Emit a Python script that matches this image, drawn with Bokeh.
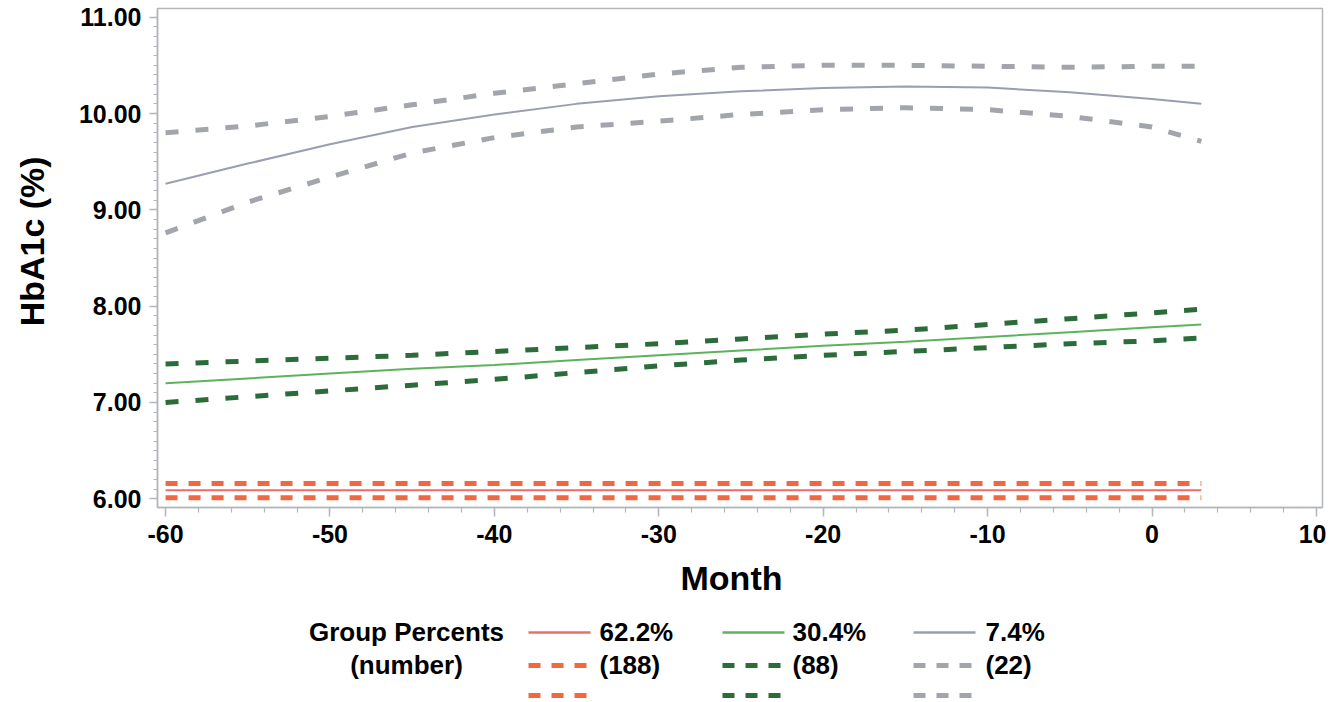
import math
from bokeh.plotting import figure
from bokeh.models import Range1d, FixedTicker, NumeralTickFormatter
from bokeh.layouts import column, row
from bokeh.embed import file_html
from bokeh.resources import INLINE
from bokeh.core.properties import value

# ---------------- data ----------------
months = [-60, -55, -50, -45, -40, -35, -30, -25, -20, -15, -10, -5, 0, 3]

# group 1 (62.2%, n=188)
g1_mean  = [6.09, 6.09, 6.09, 6.09, 6.09, 6.09, 6.09, 6.09, 6.09, 6.09, 6.09, 6.09, 6.09, 6.09]
g1_upper = [6.16, 6.16, 6.16, 6.16, 6.16, 6.16, 6.16, 6.16, 6.16, 6.16, 6.16, 6.16, 6.16, 6.16]
g1_lower = [6.01, 6.01, 6.01, 6.01, 6.01, 6.01, 6.01, 6.01, 6.01, 6.01, 6.01, 6.01, 6.01, 6.01]

# group 2 (30.4%, n=88)
g2_mean  = [7.20, 7.25, 7.30, 7.35, 7.39, 7.44, 7.49, 7.54, 7.59, 7.63, 7.68, 7.73, 7.78, 7.81]
g2_upper = [7.40, 7.43, 7.46, 7.49, 7.53, 7.57, 7.61, 7.66, 7.71, 7.75, 7.81, 7.87, 7.93, 7.97]
g2_lower = [7.00, 7.06, 7.12, 7.18, 7.24, 7.31, 7.38, 7.44, 7.49, 7.53, 7.57, 7.61, 7.64, 7.67]

# group 3 (7.4%, n=22)
g3_mean  = [9.27, 9.48, 9.68, 9.86, 9.99, 10.10, 10.18, 10.23, 10.265, 10.28, 10.27, 10.22, 10.15, 10.10]
g3_upper = [9.80, 9.87, 9.97, 10.09, 10.21, 10.31, 10.41, 10.48, 10.50, 10.50, 10.49, 10.48, 10.49, 10.49]
g3_lower = [8.76, 9.08, 9.34, 9.59, 9.75, 9.86, 9.92, 9.99, 10.04, 10.06, 10.04, 9.97, 9.86, 9.71]

x_ticks = [-60, -50, -40, -30, -20, -10, 0, 10]
x_tick_labels = ["-60", "-50", "-40", "-30", "-20", "-10", "0", "10"]
y_ticks = [6, 7, 8, 9, 10, 11]
x_label = "Month"
y_label = "HbA1c (%)"
legend_title = ["Group Percents", "(number)"]
group_pct = ["62.2%", "30.4%", "7.4%"]
group_n = ["(188)", "(88)", "(22)"]

solid_colors = ["#EF6B67", "#5CB35C", "#9A9FAF"]
dash_colors = ["#F2673F", "#2C6B3A", "#A2A5AB"]
plot_dash = ["12 11", "13 17", "13 17"]

FONT = "Liberation Sans"
AX = "#B3B6BA"

# ---------------- sizes ----------------
W_LEFT, W_MAIN, H_MAIN = 60, 1266, 555
W_BOT, H_BOT = W_LEFT + W_MAIN, 145

# ---------------- main plot ----------------
p = figure(width=W_MAIN, height=H_MAIN,
           x_range=Range1d(-60.49, 10.37), y_range=Range1d(5.91, 11.09),
           output_backend="svg", toolbar_location=None,
           min_border_left=97, min_border_right=4, min_border_top=8, min_border_bottom=48)
p.grid.visible = False
p.background_fill_color = "white"
p.border_fill_color = "white"
p.outline_line_color = AX
p.outline_line_width = 1.5

p.xaxis.ticker = FixedTicker(ticks=x_ticks, minor_ticks=[v for v in range(-60, 11, 2)])
p.xaxis.major_label_overrides = dict(zip(x_ticks, x_tick_labels))
p.yaxis.ticker = FixedTicker(ticks=y_ticks, minor_ticks=[round(5.9 + 0.1 * i, 1) for i in range(53)])
p.yaxis.formatter = NumeralTickFormatter(format="0.00")

for ax in (p.xaxis[0], p.yaxis[0]):
    ax.axis_line_color = AX
    ax.axis_line_width = 1.5
    ax.major_tick_line_color = AX
    ax.minor_tick_line_color = AX
    ax.major_tick_line_width = 1.5
    ax.minor_tick_line_width = 1.2
    ax.major_tick_in = 0
    ax.minor_tick_in = 0
    ax.major_label_text_font = FONT
    ax.major_label_text_font_size = "25px"
    ax.major_label_text_font_style = "bold"
    ax.major_label_text_color = "black"
p.xaxis.major_tick_out = 9
p.xaxis.minor_tick_out = 5
p.xaxis.major_label_standoff = 8
p.yaxis.major_tick_out = 8
p.yaxis.minor_tick_out = 4
p.yaxis.major_label_standoff = 8

groups = [(g1_mean, g1_upper, g1_lower), (g2_mean, g2_upper, g2_lower), (g3_mean, g3_upper, g3_lower)]
for i, (m, u, l) in enumerate(groups):
    p.line(months, u, line_color=dash_colors[i], line_width=5, line_dash=plot_dash[i])
    p.line(months, l, line_color=dash_colors[i], line_width=5, line_dash=plot_dash[i])
    p.line(months, m, line_color=solid_colors[i], line_width=2)

# ---------------- left: y-axis title ----------------
lf = figure(width=W_LEFT, height=H_MAIN, x_range=Range1d(0, W_LEFT), y_range=Range1d(0, H_MAIN),
            output_backend="svg", toolbar_location=None,
            min_border=0, x_axis_location=None, y_axis_location=None)
lf.grid.visible = False
lf.outline_line_color = None
lf.text(x=[31], y=[H_MAIN - 259], text=[y_label], angle=math.pi / 2,
        text_align="center", text_baseline="middle",
        text_font=value(FONT), text_font_size="34px", text_font_style="bold", text_color="black")

# ---------------- bottom: x-axis title and legend ----------------
bf = figure(width=W_BOT, height=H_BOT, x_range=Range1d(0, W_BOT), y_range=Range1d(H_BOT, 0),
            output_backend="svg", toolbar_location=None,
            min_border=0, x_axis_location=None, y_axis_location=None)
bf.grid.visible = False
bf.outline_line_color = None

bf.text(x=[731], y=[22], text=[x_label], text_align="center", text_baseline="middle",
        text_font=value(FONT), text_font_size="34px", text_font_style="bold", text_color="black")

row_y = [77, 110, 140]
line_x0 = [528, 722, 913]
line_len = 62
text_x = [599, 792, 985]

bf.text(x=[406, 406], y=[row_y[0] - 1, row_y[1] - 1], text=legend_title,
        text_align="center", text_baseline="middle",
        text_font=value(FONT), text_font_size="26px", text_font_style="bold", text_color="black")

bf.segment(x0=line_x0, y0=[row_y[0]] * 3, x1=[v + line_len for v in line_x0], y1=[row_y[0]] * 3,
           line_color=solid_colors, line_width=2.5)
for ry in row_y[1:]:
    bf.segment(x0=line_x0, y0=[ry] * 3, x1=[v + line_len for v in line_x0], y1=[ry] * 3,
               line_color=dash_colors, line_width=5, line_dash="12 11")

bf.text(x=text_x, y=[row_y[0] - 1] * 3, text=group_pct, text_align="left", text_baseline="middle",
        text_font=value(FONT), text_font_size="26px", text_font_style="bold", text_color="black")
bf.text(x=text_x, y=[row_y[1] - 1] * 3, text=group_n, text_align="left", text_baseline="middle",
        text_font=value(FONT), text_font_size="26px", text_font_style="bold", text_color="black")

layout = column(row(lf, p), bf)
open("out.html", "w").write(file_html(layout, INLINE))
